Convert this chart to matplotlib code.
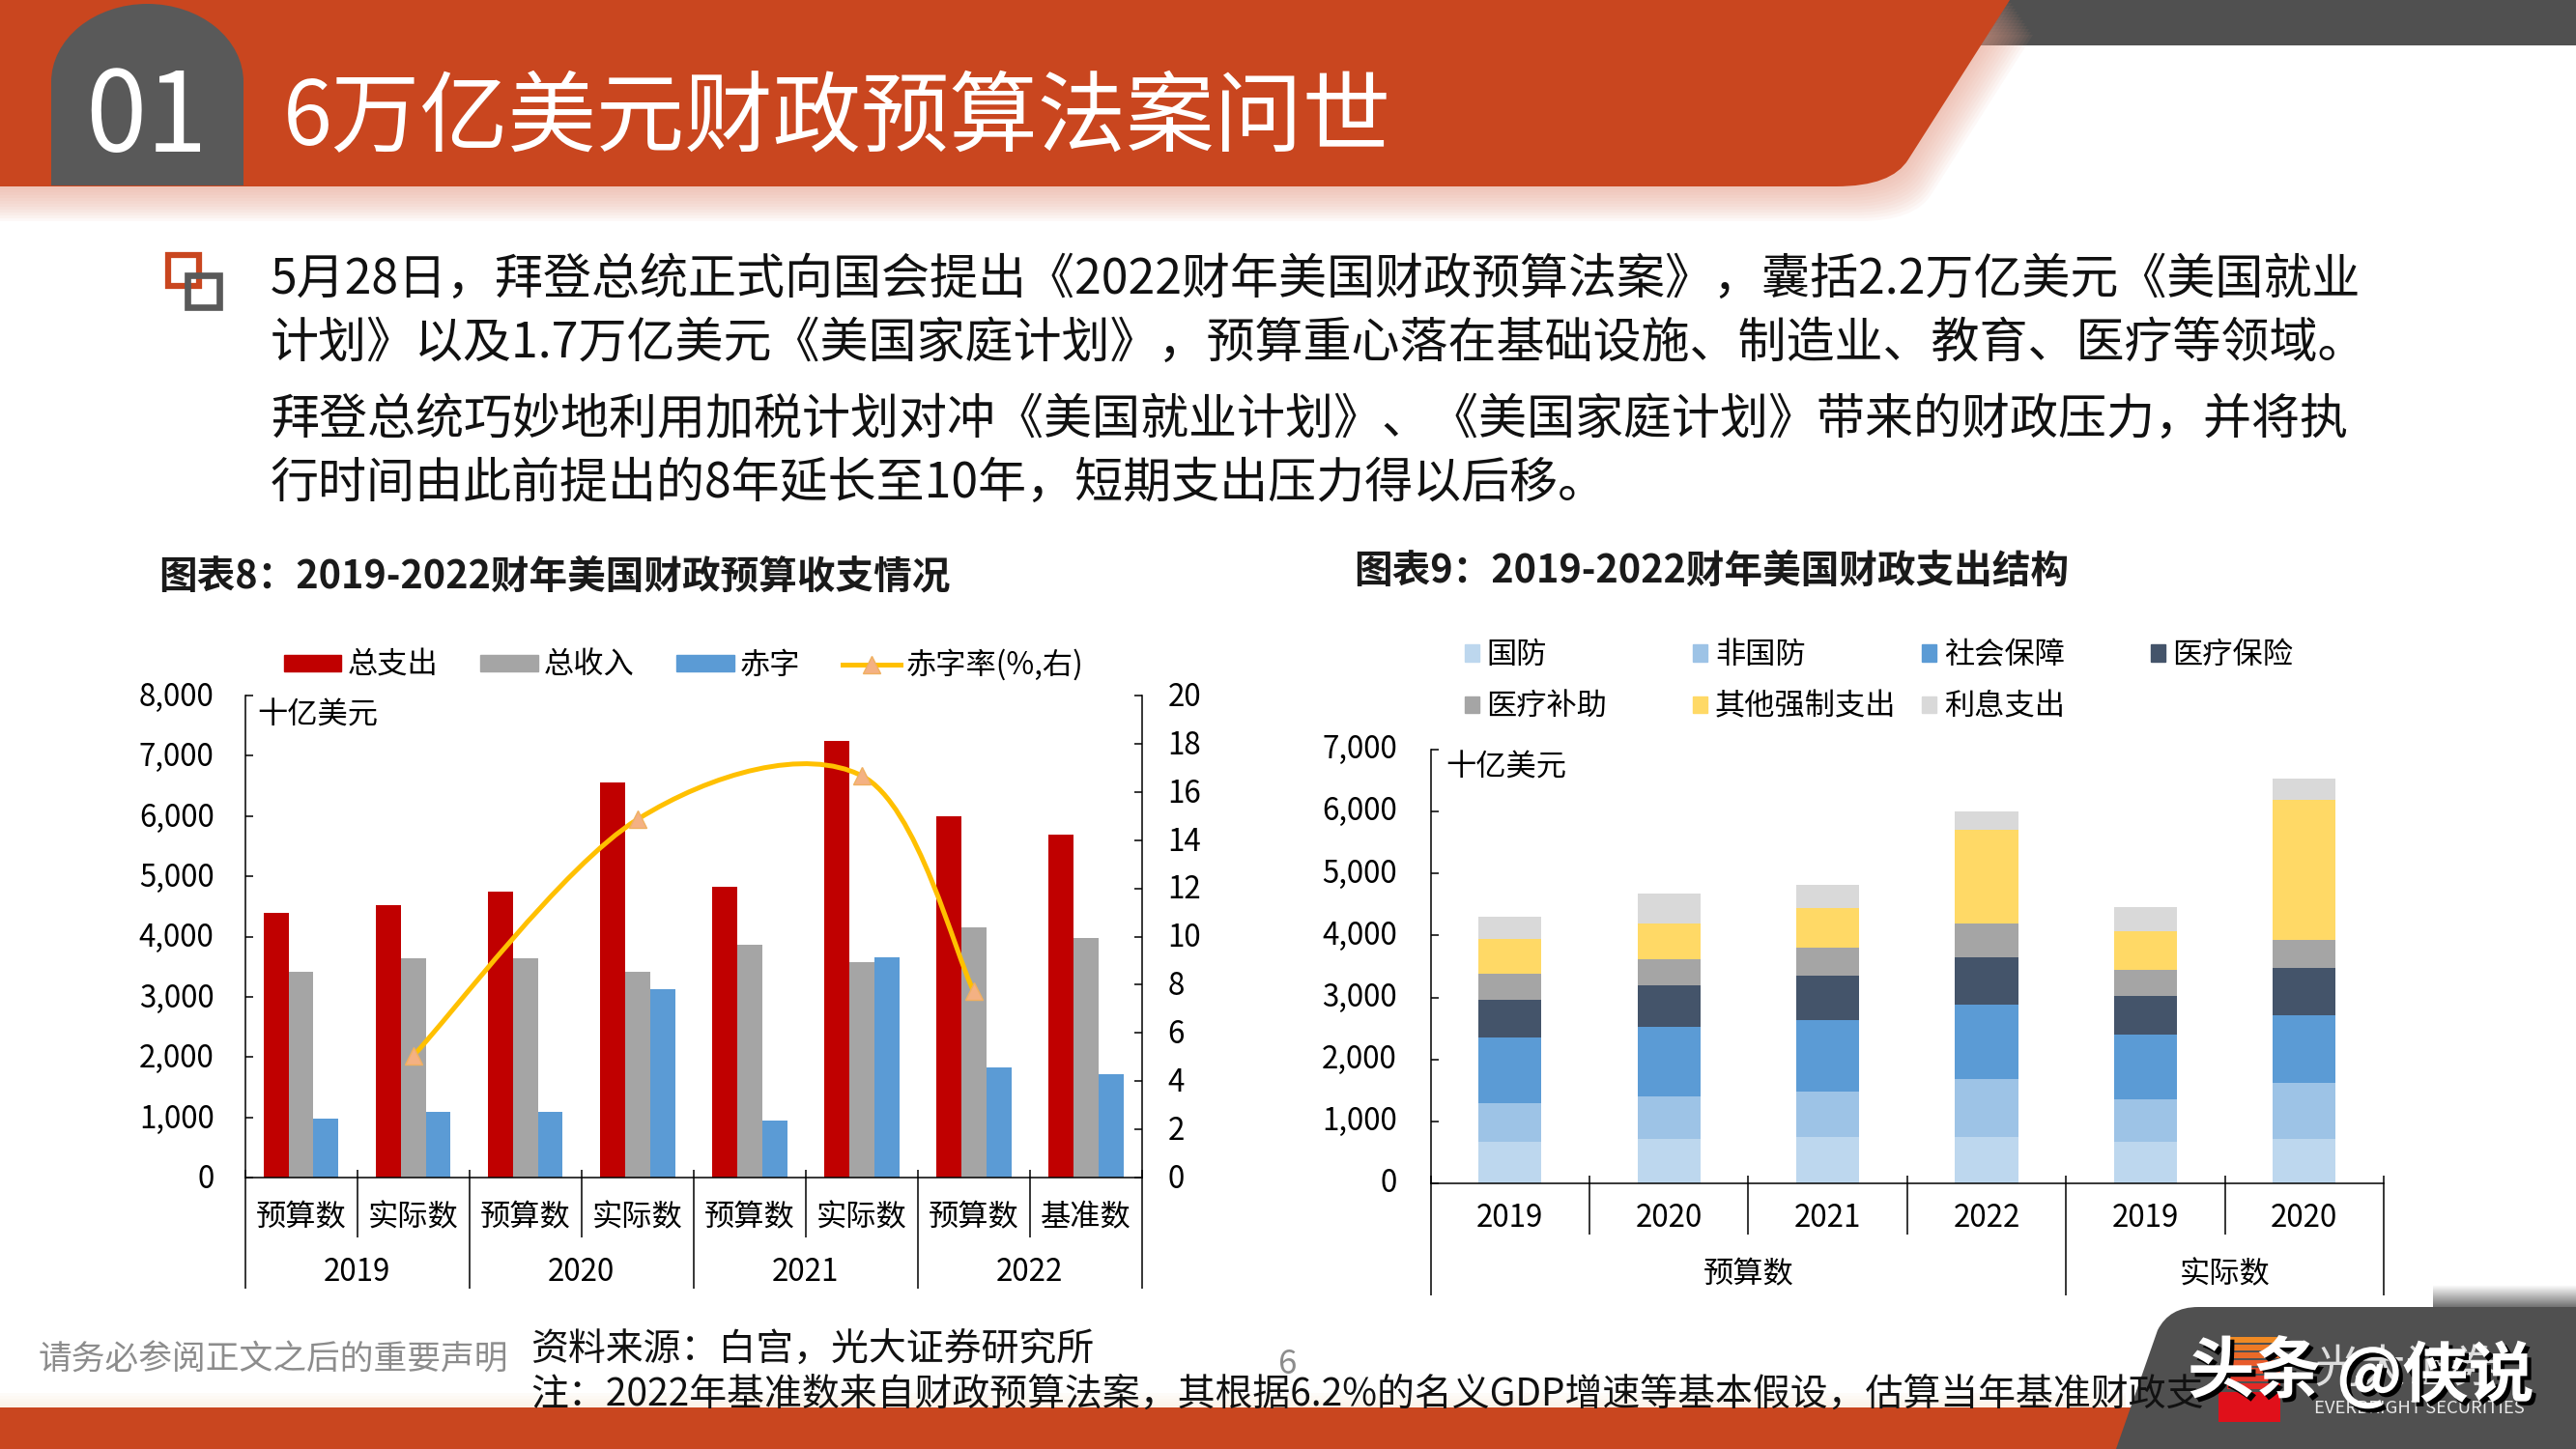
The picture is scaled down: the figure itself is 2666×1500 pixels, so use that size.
import numpy as np
import matplotlib
matplotlib.use("Agg")
import matplotlib.pyplot as plt
from matplotlib.path import Path
from matplotlib.patches import PathPatch, Rectangle, Ellipse, Patch
from matplotlib.lines import Line2D
from matplotlib.transforms import ScaledTranslation
import matplotlib.patheffects as pe

plt.rcParams['font.family'] = ['Noto Sans CJK SC', 'DejaVu Sans']

# ---------- data ----------
left_cats = ['预算数', '实际数', '预算数', '实际数', '预算数', '实际数', '预算数', '基准数']
left_years = ['2019', '2020', '2021', '2022']
spending = [4400, 4520, 4740, 6550, 4830, 7250, 6000, 5690]
revenue = [3420, 3640, 3640, 3410, 3860, 3575, 4160, 3980]
deficit = [980, 1090, 1090, 3120, 950, 3660, 1830, 1710]
rate_idx = [1, 3, 5, 6]
rate = [5.05, 14.86, 16.67, 7.72]

right_cats = ['2019', '2020', '2021', '2022', '2019', '2020']
right_groups = ['预算数', '实际数']
defense = [668, 717, 745, 745, 668, 717]
nondefense = [632, 693, 730, 939, 682, 903]
social = [1050, 1110, 1155, 1196, 1050, 1090]
medicare = [610, 670, 720, 770, 630, 770]
medicaid = [420, 420, 450, 550, 420, 450]
other = [570, 590, 650, 1500, 620, 2260]
interest = [360, 480, 370, 300, 390, 340]
stack_names = ['国防', '非国防', '社会保障', '医疗保险', '医疗补助', '其他强制支出', '利息支出']
stack_vals = [defense, nondefense, social, medicare, medicaid, other, interest]
stack_cols = ['#BDD7EE', '#9DC3E6', '#5B9BD5', '#44546A', '#A5A5A5', '#FFD966', '#D9D9D9']

W, H = 2666, 1500
ORANGE = '#C9461F'
DARK = '#505050'
fig = plt.figure(figsize=(W / 100, H / 100), dpi=100, facecolor='white')


def axes_px(l, t, r, b):
    return fig.add_axes([l / W, 1 - b / H, (r - l) / W, (b - t) / H])


# ---------- slide decoration ----------
bg = fig.add_axes([0, 0, 1, 1], zorder=0)
bg.set_xlim(0, W)
bg.set_ylim(H, 0)
bg.axis('off')

bg.add_patch(Rectangle((2000, 0), W - 2000, 47, fc=DARK, ec='none'))
hv = [(0, 0), (2080, 0), (1975, 165), (1958, 193), (1900, 193), (0, 193), (0, 0)]
hc = [Path.MOVETO, Path.LINETO, Path.LINETO, Path.CURVE3, Path.CURVE3, Path.LINETO, Path.CLOSEPOLY]
for i in range(12, 0, -1):
    sh = [(x + i * 2 if x > 0 else 0, y + i * 3) for x, y in hv]
    bg.add_patch(PathPatch(Path(sh, hc), fc='#E8A08C', ec='none', alpha=0.065))
bg.add_patch(PathPatch(Path(hv, hc), fc=ORANGE, ec='none'))
bg.add_patch(Ellipse((152.5, 85), 199, 162, fc='#595959', ec='none'))
bg.add_patch(Rectangle((53, 85), 199, 107, fc='#595959', ec='none'))
bg.text(88, 124, '01', color='white', fontsize=82, va='center', ha='left')
bg.text(293, 124, '6万亿美元财政预算法案问世', color='white', fontsize=65.8, va='center', ha='left')

# bullet icon
bg.add_patch(Rectangle((174, 264), 32, 32, fc='none', ec=ORANGE, lw=4.5))
bg.add_patch(Rectangle((193.5, 284.5), 33, 33, fc='none', ec='#595959', lw=4.8))

body = ['5月28日，拜登总统正式向国会提出《2022财年美国财政预算法案》，囊括2.2万亿美元《美国就业',
        '计划》以及1.7万亿美元《美国家庭计划》，预算重心落在基础设施、制造业、教育、医疗等领域。',
        '拜登总统巧妙地利用加税计划对冲《美国就业计划》、《美国家庭计划》带来的财政压力，并将执',
        '行时间由此前提出的8年延长至10年，短期支出压力得以后移。']
for s, y in zip(body, [290, 356, 435, 501]):
    bg.text(280, y, s, fontsize=36.0, color='#111111', va='center', ha='left')

bg.text(164, 597, '图表8：2019-2022财年美国财政预算收支情况', fontsize=28.5, fontweight='bold',
        color='#1a1a1a', va='center', ha='left')
bg.text(1401, 591, '图表9：2019-2022财年美国财政支出结构', fontsize=28.5, fontweight='bold',
        color='#1a1a1a', va='center', ha='left')

# footer
for i in range(6):
    bg.add_patch(Rectangle((0, 1457 - i * 3), 2200, 3, fc='#F3D9B8', ec='none', alpha=0.35 - i * 0.05))
bg.add_patch(Rectangle((0, 1457), 2300, 43, fc=ORANGE, ec='none'))
grad = np.linspace(0.0, 0.55, 40)[:, None]
bg.imshow(grad, extent=(2518, W, 1353, 1330), cmap='gray_r', vmin=0, vmax=1, aspect='auto', zorder=1)
bg.set_xlim(0, W)
bg.set_ylim(H, 0)
dv = [(2190, 1500), (2233, 1377), (2245, 1353), (2275, 1353), (W, 1353), (W, 1500), (2190, 1500)]
dc = [Path.MOVETO, Path.LINETO, Path.CURVE3, Path.CURVE3, Path.LINETO, Path.LINETO, Path.CLOSEPOLY]
bg.add_patch(PathPatch(Path(dv, dc), fc=DARK, ec='none', zorder=2))
bg.add_patch(Rectangle((2296, 1441), 64, 31, fc='#E0101A', ec='none', zorder=3))
for k, c in enumerate(['#F08A24', '#EE7A26', '#EA6A28', '#E85A2A', '#E64A2A', '#E43A2A', '#E22A26']):
    bg.add_patch(Rectangle((2305, 1384 + k * 8), 55, 6, fc=c, ec='none', zorder=3))
bg.text(2395, 1458, 'EVERBRIGHT SECURITIES', fontsize=13.3, color='#E8E8E8', va='center', ha='left', zorder=4)
bg.text(2395, 1418, '光大证券', fontsize=34, color='#DDDDDD', va='center', ha='left', zorder=4)
bg.text(40, 1408, '请务必参阅正文之后的重要声明', fontsize=25, color='#8C8C8C', va='center', ha='left', zorder=4)
bg.text(1333, 1413, '6', fontsize=25, color='#8C8C8C', va='center', ha='center', zorder=4)
bg.text(549, 1396.5, '资料来源：白宫，光大证券研究所', fontsize=28, color='#111111', va='center', ha='left', zorder=4)
bg.text(549, 1443.5, '注：2022年基准数来自财政预算法案，其根据6.2%的名义GDP增速等基本假设，估算当年基准财政支',
        fontsize=28, color='#111111', va='center', ha='left', zorder=4)
shadow = [pe.withSimplePatchShadow(offset=(3, -3), shadow_rgbFace='black', alpha=1.0)]
bg.text(2264, 1421, '头条', fontsize=50, fontweight='bold', color='white', va='center', ha='left',
        zorder=5, path_effects=shadow)
bg.text(2418, 1425, '@侠说', fontsize=49, fontweight='bold', color='white', va='center', ha='left',
        zorder=5, path_effects=shadow)

FS = 22.5
LW = 1.1


def style_axes(ax):
    ax.patch.set_alpha(0)
    ax.spines['top'].set_visible(False)
    ax.spines['right'].set_visible(False)
    for s in ax.spines.values():
        s.set_linewidth(LW)
    ax.tick_params(axis='y', direction='in', length=6, width=LW, labelsize=FS, pad=23)
    ax.tick_params(axis='x', length=0, labelsize=FS)


def shift_ylabels(ax, dy_pt):
    off = ScaledTranslation(0, dy_pt / 72, fig.dpi_scale_trans)
    for lab in ax.get_yticklabels():
        lab.set_transform(lab.get_transform() + off)


# ---------- left chart ----------
T1, B1 = 720, 1219
ax1 = axes_px(253.5, T1, 1182, B1)
ax1.set_zorder(2)
style_axes(ax1)
x1 = np.arange(len(left_cats))
bw = 0.223
ax1.bar(x1 - bw, spending, bw, color='#C00000', label='总支出')
ax1.bar(x1, revenue, bw, color='#A5A5A5', label='总收入')
ax1.bar(x1 + bw, deficit, bw, color='#5B9BD5', label='赤字')
ax1.set_xlim(-0.5, len(left_cats) - 0.5)
ax1.set_ylim(0, 8000)
ax1.set_yticks(np.arange(0, 8001, 1000))
ax1.set_yticklabels([f'{v:,}' for v in range(0, 8001, 1000)])
ax1.set_xticks(x1)
ax1.set_xticklabels(left_cats)
ax1.tick_params(axis='x', pad=18)
shift_ylabels(ax1, 1.2)
h1 = B1 - T1
trans1 = ax1.get_xaxis_transform()
ax1.vlines(np.arange(0.5, 7.5, 2), -(1281 - B1) / h1, 8 / h1, color='k', lw=LW, transform=trans1, clip_on=False)
ax1.vlines(np.arange(-0.5, 8, 2), -(1334 - B1) / h1, 8 / h1, color='k', lw=LW, transform=trans1, clip_on=False)
for i, yr in enumerate(left_years):
    ax1.text(2 * i + 0.5, -(1316.5 - B1) / h1, yr, transform=trans1, ha='center', va='center', fontsize=FS)
ax1.text((266.5 - 253.5) / 928.5, 1 - (741 - T1) / h1, '十亿美元', transform=ax1.transAxes,
         fontsize=FS, va='center', ha='left')

ax1r = ax1.twinx()
ax1r.set_zorder(3)
ax1r.patch.set_alpha(0)
ax1r.set_ylim(0, 20)
ax1r.set_yticks(np.arange(0, 21, 2))
for n in ['top', 'left', 'bottom']:
    ax1r.spines[n].set_visible(False)
ax1r.spines['right'].set_linewidth(LW)
ax1r.tick_params(axis='y', direction='in', length=6, width=LW, labelsize=FS, pad=19)
shift_ylabels(ax1r, 1.2)

# smoothed line through the rate points, Excel style
P = np.column_stack([rate_idx, rate]).astype(float)
verts, codes = [tuple(P[0])], [Path.MOVETO]
for i in range(len(P) - 1):
    p0 = P[max(i - 1, 0)]
    p1, p2 = P[i], P[i + 1]
    p3 = P[min(i + 2, len(P) - 1)]
    verts += [tuple(p1 + (p2 - p0) / 6), tuple(p2 - (p3 - p1) / 6), tuple(p2)]
    codes += [Path.CURVE4] * 3
YEL = '#FFC000'
ax1r.add_patch(PathPatch(Path(verts, codes), fc='none', ec=YEL, lw=3.6))
ax1r.plot(rate_idx, rate, ls='none', marker='^', ms=13, mfc='#F4B183', mec='#F0B060', mew=1)

handles = [Patch(color='#C00000', label='总支出'), Patch(color='#A5A5A5', label='总收入'),
           Patch(color='#5B9BD5', label='赤字'),
           Line2D([], [], color=YEL, lw=3.6, marker='^', ms=13, mfc='#F4B183', mec='#F0B060', label='赤字率(%,右)')]
fig.legend(handles=handles, loc='center left', bbox_to_anchor=(294 / W, 1 - 688.5 / H), ncol=4, frameon=False,
           fontsize=FS, borderpad=0, borderaxespad=0, handlelength=1.9, handleheight=0.45,
           handletextpad=0.2, columnspacing=1.4)

# ---------- right chart ----------
T2, B2 = 776, 1225
ax2 = axes_px(1480.6, T2, 2467, B2)
ax2.set_zorder(2)
style_axes(ax2)
ax2.tick_params(axis='y', pad=25)
x2 = np.arange(len(right_cats))
bottom = np.zeros(len(right_cats))
for name, vals, col in zip(stack_names, stack_vals, stack_cols):
    ax2.bar(x2, vals, 0.397, bottom=bottom, color=col, label=name)
    bottom += np.array(vals)
ax2.set_xlim(-0.5, len(right_cats) - 0.5)
ax2.set_ylim(0, 7000)
ax2.set_yticks(np.arange(0, 7001, 1000))
ax2.set_yticklabels([f'{v:,}' for v in range(0, 7001, 1000)])
ax2.set_xticks(x2)
ax2.set_xticklabels(right_cats)
ax2.tick_params(axis='x', pad=14.6)
shift_ylabels(ax2, 2.4)
h2 = B2 - T2
trans2 = ax2.get_xaxis_transform()
ax2.vlines([0.5, 1.5, 2.5, 4.5], -(1278 - B2) / h2, 8 / h2, color='k', lw=LW, transform=trans2, clip_on=False)
ax2.vlines([-0.5, 3.5, 5.5], -(1341 - B2) / h2, 8 / h2, color='k', lw=LW, transform=trans2, clip_on=False)
ax2.text(1.5, -(1319.5 - B2) / h2, right_groups[0], transform=trans2, ha='center', va='center', fontsize=FS)
ax2.text(4.5, -(1319.5 - B2) / h2, right_groups[1], transform=trans2, ha='center', va='center', fontsize=FS)
ax2.text((1496 - 1480.6) / 986.4, 1 - (794.5 - T2) / h2, '十亿美元', transform=ax2.transAxes,
         fontsize=FS, va='center', ha='left')

bars_h = [Patch(color=c, label=n) for n, c in zip(stack_names, stack_cols)]
columns = [([0, 4], 1515.5), ([1, 5], 1752), ([2, 6], 1989), ([3], 2225.5)]
for idx, xp in columns:
    yc = 705 if len(idx) == 2 else 678
    fig.legend(handles=[bars_h[i] for i in idx], loc='center left', bbox_to_anchor=(xp / W, 1 - yc / H),
               frameon=False, fontsize=FS, borderpad=0, borderaxespad=0, handlelength=0.48,
               handleheight=0.48, handletextpad=0.25, labelspacing=0.69)

fig.savefig('out.png', dpi=100, facecolor='white')
